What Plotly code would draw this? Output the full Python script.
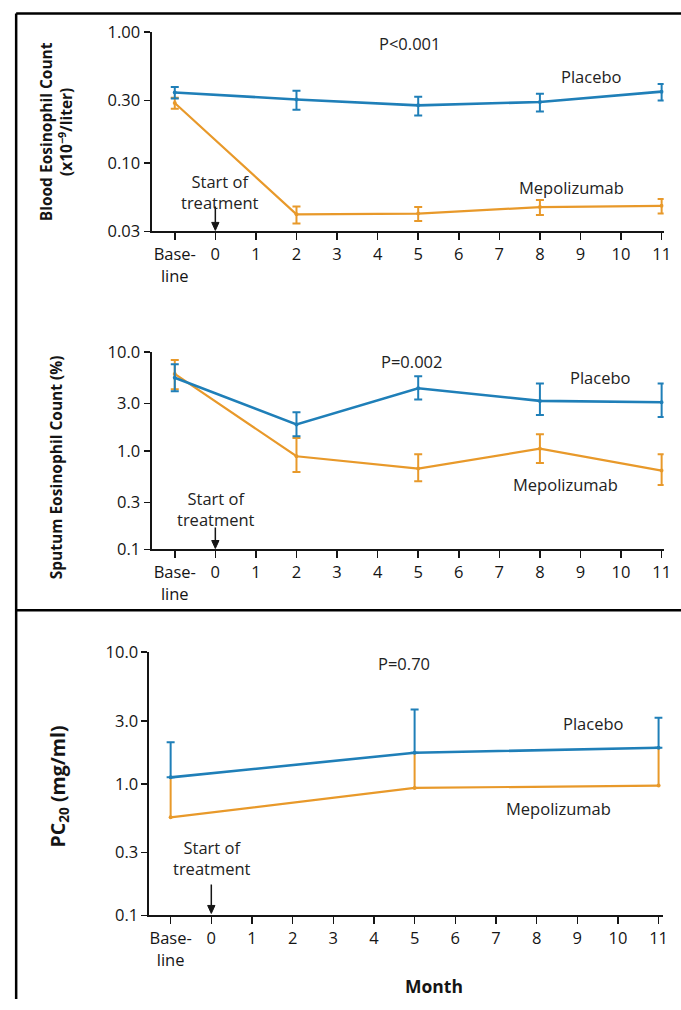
import numpy as np
import plotly.graph_objects as go

W, H = 695, 1010
SC, OFF = 0.98, 10.0   # how the page ends up in the photograph

# ---------------- data ----------------
months = [-1, 2, 5, 8, 11]           # -1 = Baseline
months_pc = [-1, 5, 11]
tick_vals_x = list(range(-1, 12))
tick_text_x = ["Base-<br>line"] + [str(i) for i in range(0, 12)]

# Blood eosinophil count (x10^-9/liter)
blood_placebo = [0.345, 0.305, 0.275, 0.292, 0.350]
blood_placebo_err = [0.035, 0.05, 0.045, 0.045, 0.05]
blood_mepo = [0.287, 0.0405, 0.041, 0.046, 0.047]
blood_mepo_err = [0.028, 0.006, 0.005, 0.006, 0.006]

# Sputum eosinophil count (%)
sput_placebo = [5.5, 1.85, 4.3, 3.2, 3.1]
sput_placebo_up = [2.0, 0.6, 1.4, 1.6, 1.7]
sput_placebo_dn = [1.5, 0.45, 1.0, 0.9, 0.9]
sput_mepo = [6.0, 0.88, 0.66, 1.05, 0.63]
sput_mepo_up = [2.3, 0.47, 0.26, 0.42, 0.29]
sput_mepo_dn = [1.8, 0.27, 0.17, 0.3, 0.18]

# PC20 (mg/ml)
pc_placebo = [1.12, 1.72, 1.88]
pc_placebo_up = [0.95, 1.95, 1.3]
pc_mepo = [0.556, 0.93, 0.97]
pc_mepo_up = [0.55, 0.78, 0.9]

BLUE = "#1f7fb8"
ORANGE = "#e8992a"
INK = "#151515"
FONT = "Open Sans"

fig = go.Figure()

def add_series(x, y, up, dn, color, xa, ya, cap=4, lw=2.6):
    fig.add_trace(go.Scatter(
        x=x, y=y, mode="lines+markers",
        line=dict(color=color, width=lw),
        marker=dict(color=color, size=4),
        error_y=dict(type="data", symmetric=False, array=up, arrayminus=dn,
                     color=color, thickness=2, width=cap),
        xaxis=xa, yaxis=ya, showlegend=False, hoverinfo="skip"))

# Panel 1
add_series(months, blood_mepo, blood_mepo_err, blood_mepo_err, ORANGE, "x", "y", lw=2.2)
add_series(months, blood_placebo, blood_placebo_err, blood_placebo_err, BLUE, "x", "y")
# Panel 2
add_series(months, sput_mepo, sput_mepo_up, sput_mepo_dn, ORANGE, "x2", "y2", lw=2.2)
add_series(months, sput_placebo, sput_placebo_up, sput_placebo_dn, BLUE, "x2", "y2")
# Panel 3
add_series(months_pc, pc_mepo, pc_mepo_up, [0, 0, 0], ORANGE, "x3", "y3", cap=0, lw=2.2)
add_series(months_pc, pc_placebo, pc_placebo_up, [0, 0, 0], BLUE, "x3", "y3")

def px_x(p):
    return (p / SC) / W

def px_y(p):
    return min(1.0, 1 - ((p - OFF) / SC) / H)

FS = 16.5
xcommon = dict(tickvals=tick_vals_x, ticktext=tick_text_x, showline=True,
               linecolor=INK, linewidth=2, ticks="outside", ticklen=7,
               tickwidth=1.5, tickcolor=INK, showgrid=False, zeroline=False,
               tickfont=dict(family=FONT, size=FS, color=INK), fixedrange=True)
ycommon = dict(type="log", showline=True, linecolor=INK, linewidth=2,
               ticks="outside", ticklen=6, tickwidth=1.5, tickcolor=INK,
               showgrid=False, zeroline=False,
               tickfont=dict(family=FONT, size=FS, color=INK), fixedrange=True)

fig.update_layout(
    width=W, height=H, margin=dict(l=0, r=0, t=0, b=0),
    paper_bgcolor="white", plot_bgcolor="white",
    xaxis=dict(xcommon, domain=[px_x(150), px_x(657)], range=[-1.573, 11.05], anchor="y"),
    yaxis=dict(ycommon, domain=[px_y(230), px_y(30)], range=[np.log10(0.03), 0],
               tickvals=[0.03, 0.1, 0.3, 1.0], ticktext=["0.03", "0.10", "0.30", "1.00"], anchor="x"),
    xaxis2=dict(xcommon, domain=[px_x(150), px_x(657)], range=[-1.573, 11.05], anchor="y2"),
    yaxis2=dict(ycommon, domain=[px_y(549), px_y(351)], range=[-1, 1],
                tickvals=[0.1, 0.3, 1, 3, 10], ticktext=["0.1", "0.3", "1.0", "3.0", "10.0"], anchor="x2"),
    xaxis3=dict(xcommon, domain=[px_x(148), px_x(656)], range=[-1.52, 11.1], anchor="y3"),
    yaxis3=dict(ycommon, domain=[px_y(916), px_y(652)], range=[-1, 1],
                tickvals=[0.1, 0.3, 1, 3, 10], ticktext=["0.1", "0.3", "1.0", "3.0", "10.0"], anchor="x3"),
)

ann = []
def txt(text, x, y, xref, yref, size=16.5, bold=False, angle=0, color="#222222"):
    ann.append(dict(text=f"<b>{text}</b>" if bold else text, x=x, y=y, xref=xref, yref=yref,
                    showarrow=False, textangle=angle, xanchor="center", yanchor="middle",
                    font=dict(family=FONT, size=size, color=color)))

# Panel 1 labels
txt("P&lt;0.001", 4.78, -0.091, "x", "y")
txt("Placebo", 9.26, -0.343, "x", "y")
txt("Mepolizumab", 8.78, -1.188, "x", "y")
txt("Start of<br>treatment", 0.12, -1.219, "x", "y")
txt("Blood Eosinophil Count<br>(x10<sup>−9</sup>/liter)", px_x(55), px_y(130), "paper", "paper",
    size=15.5, bold=True, angle=-90, color=INK)

# Panel 2 labels
txt("P=0.002", 4.83, 0.909, "x2", "y2")
txt("Placebo", 9.5, 0.747, "x2", "y2")
txt("Mepolizumab", 8.63, -0.343, "x2", "y2")
txt("Start of<br>treatment", 0.02, -0.586, "x2", "y2")
txt("Sputum Eosinophil Count (%)", px_x(55), px_y(467), "paper", "paper",
    size=15.5, bold=True, angle=-90, color=INK)

# Panel 3 labels
txt("P=0.70", 4.74, 0.917, "x3", "y3")
txt("Placebo", 9.41, 0.462, "x3", "y3")
txt("Mepolizumab", 8.54, -0.189, "x3", "y3")
txt("Start of<br>treatment", 0.02, -0.56, "x3", "y3")
txt("PC<sub>20</sub> (mg/ml)", px_x(58), px_y(787), "paper", "paper",
    size=19.5, bold=True, angle=-90, color=INK)
txt("Month", px_x(430), px_y(987), "paper", "paper", size=17.5, bold=True, color=INK)

fig.update_layout(annotations=ann)

# frame lines
top_y = 1 - 1.5 / H
shapes = [
    dict(type="line", xref="paper", yref="paper", x0=px_x(16), x1=1, y0=top_y, y1=top_y,
         line=dict(color="black", width=2.5)),
    dict(type="line", xref="paper", yref="paper", x0=px_x(16), x1=px_x(16), y0=top_y, y1=0,
         line=dict(color="black", width=2.5)),
    dict(type="line", xref="paper", yref="paper", x0=px_x(16), x1=1, y0=px_y(610), y1=px_y(610),
         line=dict(color="black", width=2.5)),
]

# "start of treatment" arrows at month 0 (line + head), x in data units, y in paper
def treat_arrow(xref, top_px, tip_px):
    ya, yb, yh = px_y(top_px), px_y(tip_px), px_y(tip_px - 8)
    shapes.append(dict(type="line", xref=xref, yref="paper", x0=0, x1=0, y0=ya, y1=yh,
                       line=dict(color=INK, width=1.5)))
    shapes.append(dict(type="path", xref=xref, yref="paper",
                       path=f"M -0.09,{yh} L 0.09,{yh} L 0,{yb} Z",
                       fillcolor=INK, line=dict(color=INK, width=1)))

treat_arrow("x", 205, 229)
treat_arrow("x2", 527, 548)
treat_arrow("x3", 885, 914)

fig.update_layout(shapes=shapes)

fig.write_html(
    "out.html",
    config={"displayModeBar": False, "staticPlot": True},
    post_script=("document.body.style.margin='0px';"
                 "document.body.style.overflow='hidden';"
                 "document.documentElement.style.overflow='hidden';"),
)
